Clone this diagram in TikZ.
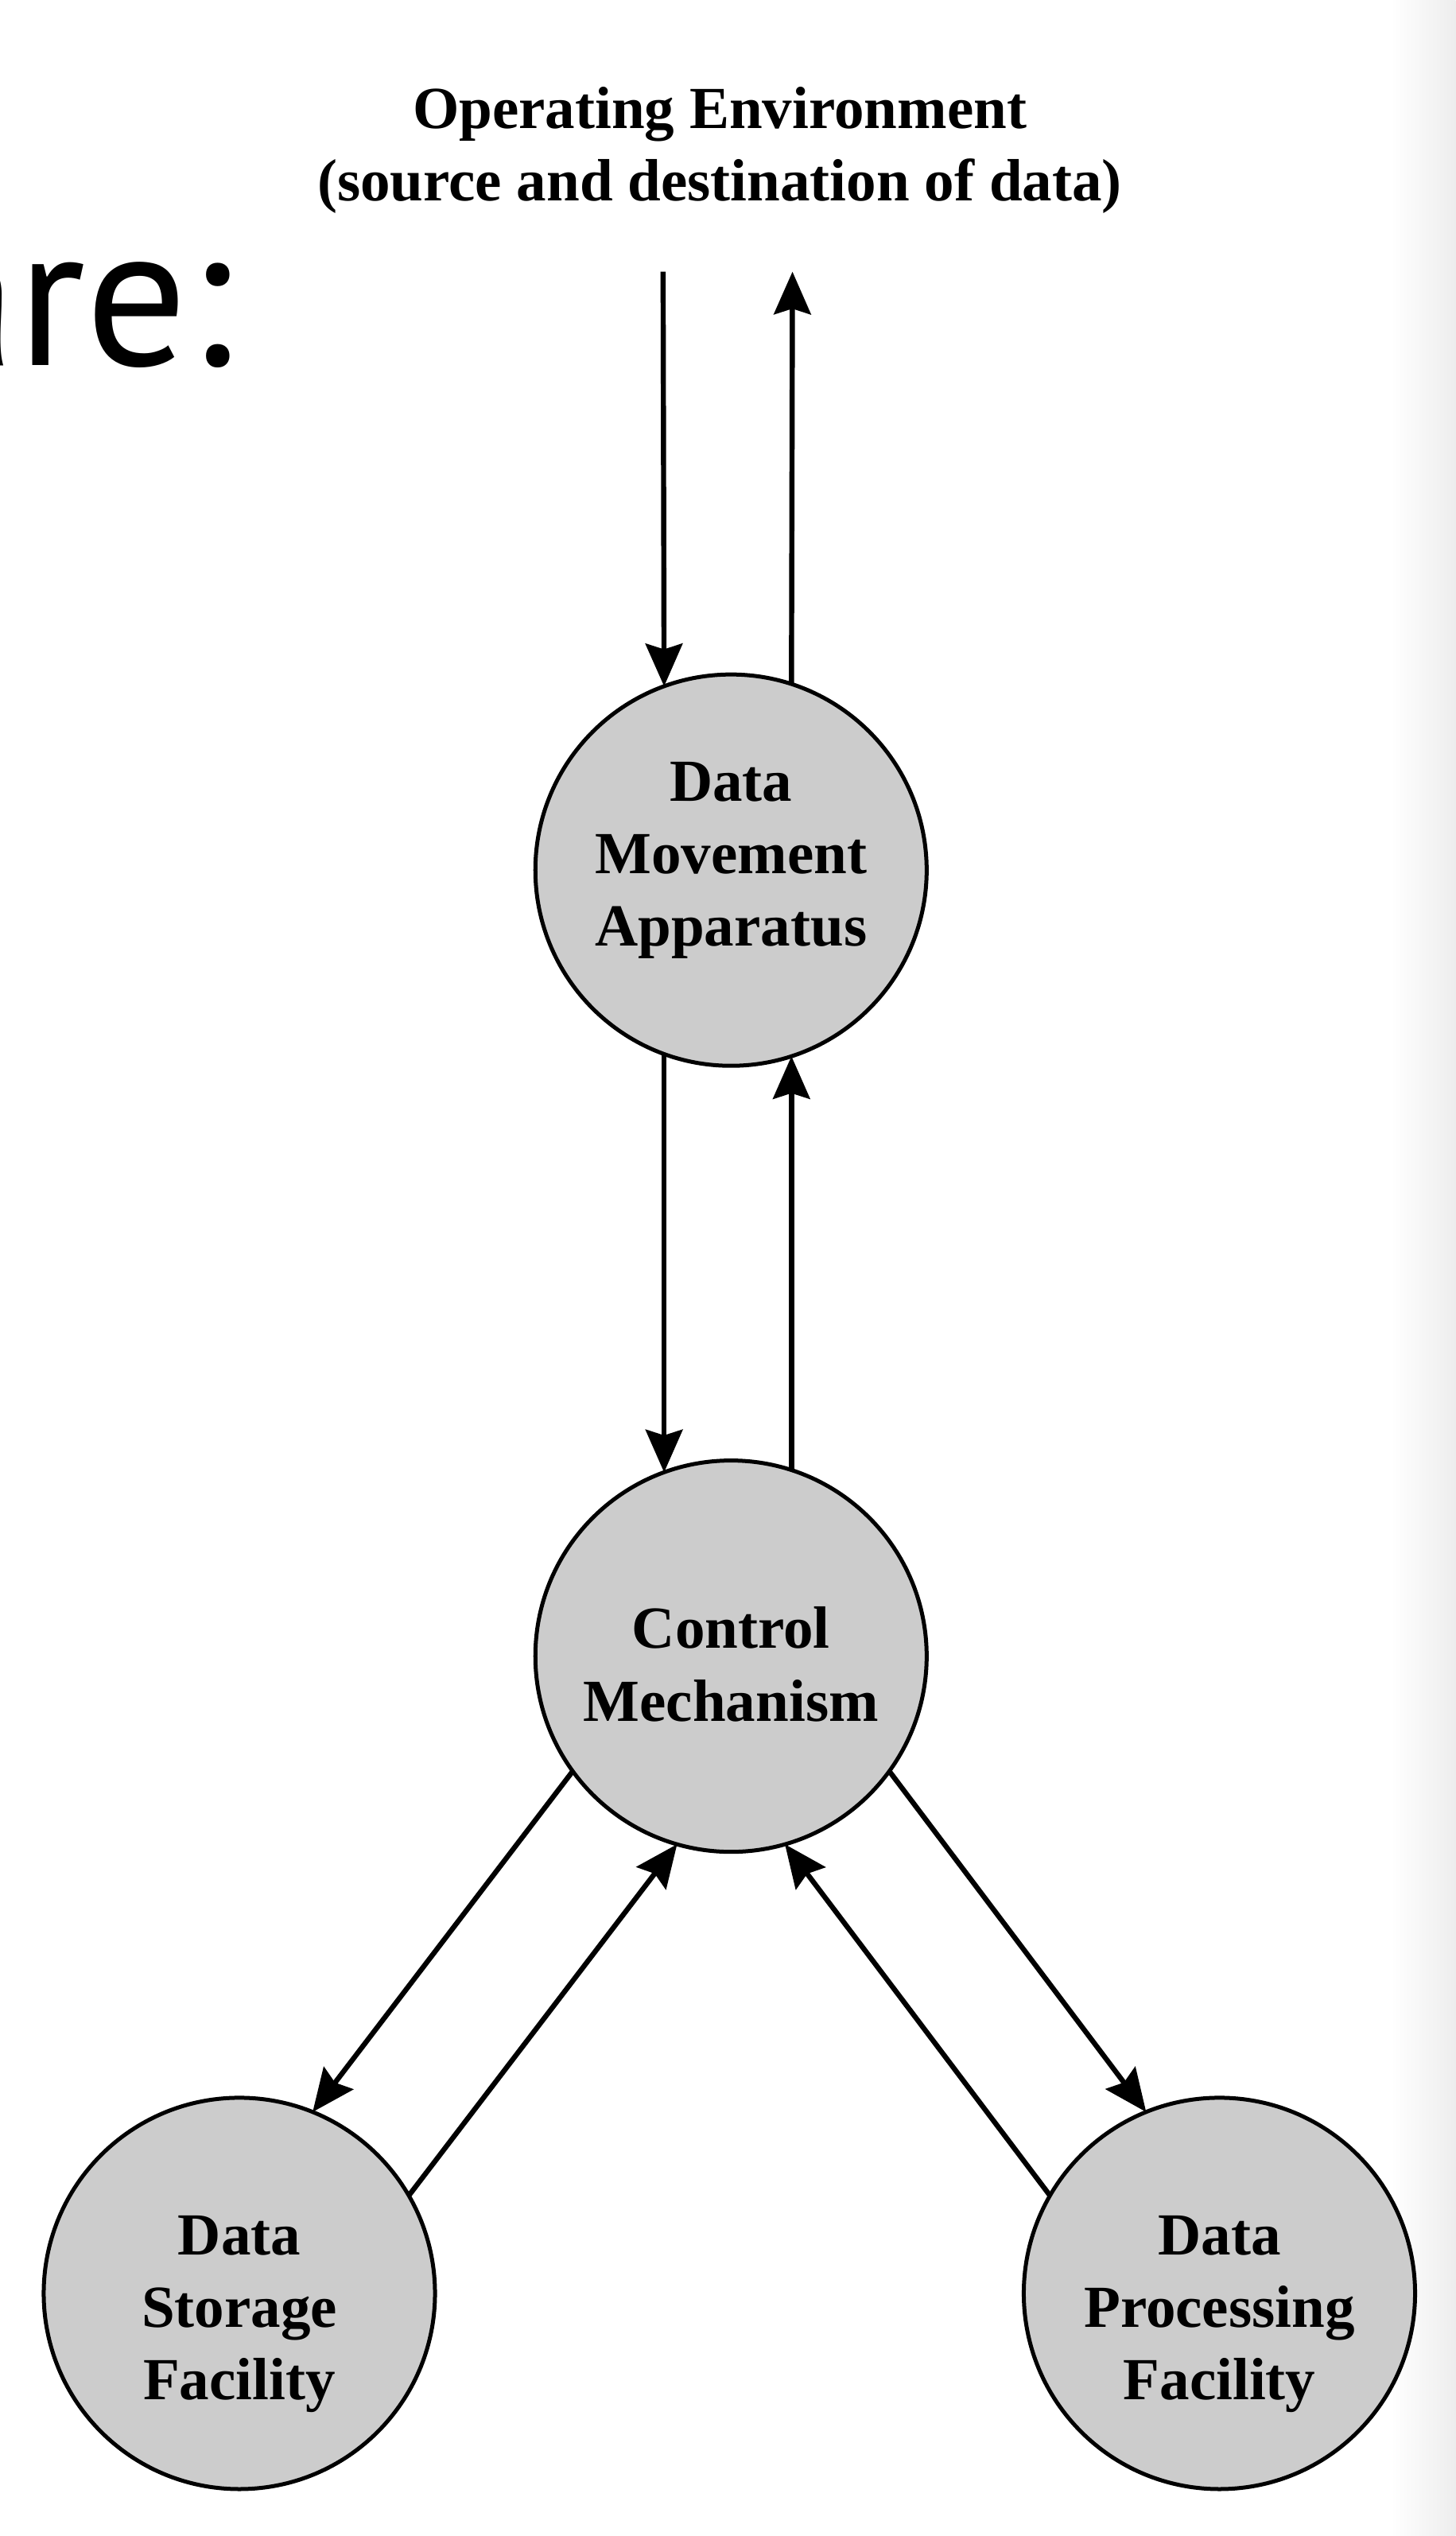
\documentclass[tikz,border=0pt]{standalone}
\usepackage{fontspec}
\setmainfont{Liberation Serif}
\newfontfamily\slidefont{PT Sans}
\usetikzlibrary{arrows.meta}

\begin{document}
\begin{tikzpicture}[x=0.02cm,y=-0.02cm]
\tikzset{
  unit/.style={circle,draw=black,line width=1.4pt,fill=black!20,
    minimum size=4.84cm,inner sep=0pt,outer sep=0pt},
  unittext/.style={align=center,inner sep=0pt,
    font=\fontsize{21}{25.5}\selectfont\bfseries},
  flow/.style={line width=1.8pt,-{Stealth[length=15pt,width=13pt,inset=2pt]}}
}
\useasboundingbox (0,0) rectangle (900,1568);
\fill [white] (0,0) rectangle (900,1568);
\shade [left color=white,right color=black!7] (860,0) rectangle (900,1568);
% slide text cut at the left edge
\node [anchor=base east,inner sep=0pt,font=\slidefont\fontsize{71}{74}\selectfont] (slide) at (144,226) {are:};
% environment
\node [align=center,font=\fontsize{21}{25.5}\selectfont\bfseries] (env) at (445,93)
  {Operating Environment\\(source and destination of data)};
\coordinate (envin) at (410,168);
\coordinate (envout) at (490,168);
% functional units
\node [unit] (dma) at (452,538) {};
\node [unit] (cm) at (452,1024) {};
\node [unit] (dsf) at (148,1418) {};
\node [unit] (dpf) at (754,1418) {};
\node [unittext] (dmatext) at ([shift={(0,-6)}]dma.center) {Data\\Movement\\Apparatus};
\node [unittext] (cmtext) at ([shift={(0,5)}]cm.center) {Control\\Mechanism};
\node [unittext] (dsftext) at ([shift={(0,13)}]dsf.center) {Data\\Storage\\Facility};
\node [unittext] (dpftext) at ([shift={(0,13)}]dpf.center) {Data\\Processing\\Facility};
% data paths
\draw [flow] (envin) -- (dma.110);
\draw [flow] (dma.72) -- (envout);
\draw [flow] (dma.250) -- (cm.110);
\draw [flow] (cm.72) -- (dma.288);
\draw [flow] (cm.216) -- (dsf.68);
\draw [flow] (dsf.30) -- (cm.254);
\draw [flow] (cm.324) -- (dpf.112);
\draw [flow] (dpf.150) -- (cm.286);
\end{tikzpicture}
\end{document}
